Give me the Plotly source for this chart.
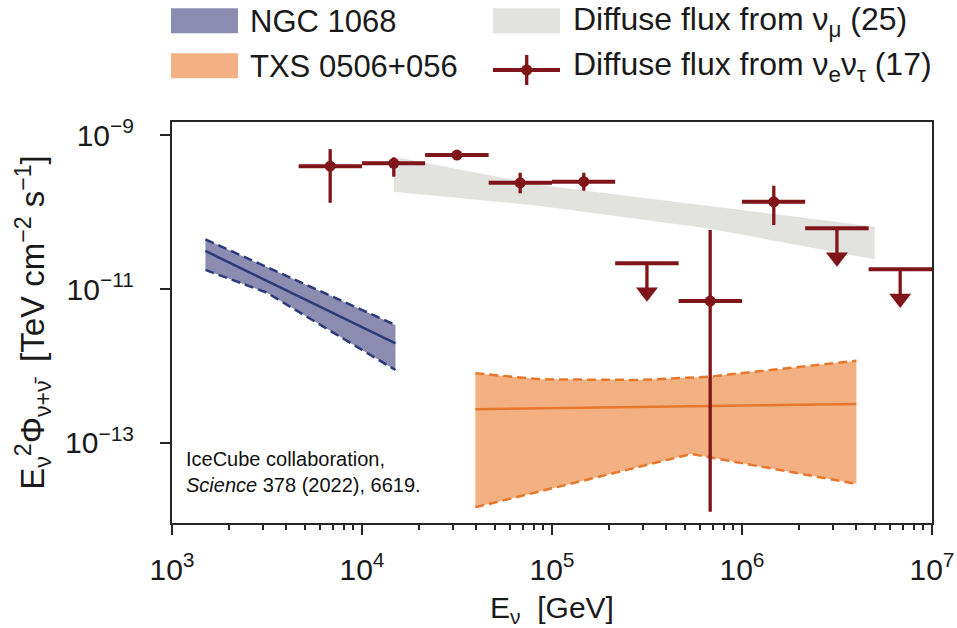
import plotly.graph_objects as go

# ---------------- data ----------------
# NGC 1068 (butterfly band)
ngc_E = [1.5e3, 3.16e3, 1.5e4]
ngc_best = [3.12e-11, 1.27e-11, 1.97e-12]
ngc_upper = [4.42e-11, 1.92e-11, 3.40e-12]
ngc_lower = [1.77e-11, 8.95e-12, 8.87e-13]

# TXS 0506+056 (butterfly band)
txs_E = [3.95e4, 4.0e6]
txs_best = [2.74e-13, 3.21e-13]
txs_up_E = [3.95e4, 8.67e4, 2.91e5, 6.8e5, 9.8e5, 4.0e6]
txs_upper = [8.04e-13, 6.71e-13, 6.58e-13, 7.26e-13, 8.04e-13, 1.17e-12]
txs_lo_E = [3.95e4, 5.4e5, 4.0e6]
txs_lower = [1.46e-14, 7.19e-14, 2.94e-14]

# Diffuse flux from nu_mu (band)
mu_E = [1.47e4, 8.67e4, 6.55e5, 5.0e6]
mu_upper = [5.22e-10, 2.24e-10, 1.21e-10, 6.44e-11]
mu_lower = [1.84e-10, 1.20e-10, 6.14e-11, 2.43e-11]

# Diffuse flux from nu_e nu_tau (measurements)
nuet_E = [6.8e3, 1.47e4, 3.16e4, 6.8e4, 1.47e5, 6.8e5, 1.47e6]
nuet_E_lo = [4.64e3, 1.0e4, 2.15e4, 4.64e4, 1.0e5, 4.64e5, 1.0e6]
nuet_E_hi = [1.0e4, 2.15e4, 4.64e4, 1.0e5, 2.15e5, 1.0e6, 2.15e6]
nuet_flux = [3.95e-10, 4.29e-10, 5.5e-10, 2.40e-10, 2.48e-10, 6.98e-12, 1.36e-10]
nuet_up = [6.58e-10, 5.13e-10, 5.8e-10, 3.24e-10, 3.24e-10, 5.83e-11, 2.20e-10]
nuet_dn = [1.32e-10, 2.88e-10, 5.2e-10, 1.75e-10, 1.89e-10, 1.28e-14, 6.78e-11]

# Diffuse flux from nu_e nu_tau (upper limits)
lim_E = [3.16e5, 3.16e6, 6.8e6]
lim_E_lo = [2.15e5, 2.15e6, 4.64e6]
lim_E_hi = [4.64e5, 4.64e6, 1.0e7]
lim_flux = [2.16e-11, 6.14e-11, 1.80e-11]

x_tickvals = [1e3, 1e4, 1e5, 1e6, 1e7]
x_ticktext = ["10<sup>3</sup>", "10<sup>4</sup>", "10<sup>5</sup>", "10<sup>6</sup>", "10<sup>7</sup>"]
y_tickvals = [1e-13, 1e-11, 1e-9]
y_ticktext = ["10<sup>\u221213</sup>", "10<sup>\u221211</sup>", "10<sup>\u22129</sup>"]

legend_labels = ["NGC 1068", "TXS 0506+056",
                 "Diffuse flux from \u03bd<sub>\u03bc</sub> (25)",
                 "Diffuse flux from \u03bd<sub>e</sub>\u03bd<sub>\u03c4</sub> (17)"]

# ---------------- style ----------------
FONT = "Liberation Sans, Arial, sans-serif"
RED = "#7f1519"
NGC_FILL = "#8c8cb1"
NGC_LINE = "#2c3a7c"
TXS_FILL = "#f3b183"
TXS_LINE = "#e8772e"
GREY = "#e2e2df"
AX = "#262626"
DASH = "9px,5px"

L, R, T, B = 172, 25, 122, 105
W, H = 957, 628
PW, PH = W - L - R, H - T - B


def PX(x):
    return (x - L) / PW


def PY(y):
    return (H - B - y) / PH


fig = go.Figure()

# grey diffuse band
fig.add_trace(go.Scatter(x=mu_E + mu_E[::-1], y=mu_upper + mu_lower[::-1],
                         fill="toself", fillcolor=GREY, mode="lines",
                         line=dict(width=0), showlegend=False, hoverinfo="skip"))

# NGC 1068
fig.add_trace(go.Scatter(x=ngc_E + ngc_E[::-1], y=ngc_upper + ngc_lower[::-1],
                         fill="toself", fillcolor=NGC_FILL, mode="lines",
                         line=dict(width=0), showlegend=False, hoverinfo="skip"))
for yy, dash in [(ngc_upper, DASH), (ngc_lower, DASH), (ngc_best, "solid")]:
    fig.add_trace(go.Scatter(x=ngc_E, y=yy, mode="lines",
                             line=dict(color=NGC_LINE, width=2.5, dash=dash),
                             showlegend=False))

# TXS 0506+056
fig.add_trace(go.Scatter(x=txs_up_E + txs_lo_E[::-1], y=txs_upper + txs_lower[::-1],
                         fill="toself", fillcolor=TXS_FILL, mode="lines",
                         line=dict(width=0), showlegend=False, hoverinfo="skip"))
fig.add_trace(go.Scatter(x=txs_up_E, y=txs_upper, mode="lines",
                         line=dict(color=TXS_LINE, width=2.5, dash=DASH), showlegend=False))
fig.add_trace(go.Scatter(x=txs_lo_E, y=txs_lower, mode="lines",
                         line=dict(color=TXS_LINE, width=2.5, dash=DASH), showlegend=False))
fig.add_trace(go.Scatter(x=txs_E, y=txs_best, mode="lines",
                         line=dict(color=TXS_LINE, width=2.5), showlegend=False))

# nu_e nu_tau measurements
fig.add_trace(go.Scatter(
    x=nuet_E, y=nuet_flux, mode="markers",
    marker=dict(size=11, color=RED),
    error_x=dict(type="data", symmetric=False,
                 array=[h - x for h, x in zip(nuet_E_hi, nuet_E)],
                 arrayminus=[x - l for l, x in zip(nuet_E_lo, nuet_E)],
                 thickness=4, width=0, color=RED),
    error_y=dict(type="data", symmetric=False,
                 array=[u - y for u, y in zip(nuet_up, nuet_flux)],
                 arrayminus=[y - d for d, y in zip(nuet_dn, nuet_flux)],
                 thickness=3.3, width=0, color=RED),
    showlegend=False))

# upper limits
fig.add_trace(go.Scatter(
    x=lim_E, y=lim_flux, mode="markers",
    marker=dict(size=1, color=RED),
    error_x=dict(type="data", symmetric=False,
                 array=[h - x for h, x in zip(lim_E_hi, lim_E)],
                 arrayminus=[x - l for l, x in zip(lim_E_lo, lim_E)],
                 thickness=4, width=0, color=RED),
    error_y=dict(type="data", symmetric=False,
                 array=[0 for _ in lim_flux],
                 arrayminus=[f * (1 - 10 ** -0.33) for f in lim_flux],
                 thickness=3.3, width=0, color=RED),
    showlegend=False))
fig.add_trace(go.Scatter(
    x=lim_E, y=[f * 10 ** -0.377 for f in lim_flux], mode="markers",
    marker=dict(symbol="triangle-down", size=19, color=RED, line=dict(width=0)),
    showlegend=False))

# ---------------- manual legend ----------------
shapes = [
    dict(type="rect", xref="paper", yref="paper", x0=PX(171), x1=PX(238),
         y0=PY(33.3), y1=PY(8.3), fillcolor=NGC_FILL, line=dict(width=0), layer="above"),
    dict(type="rect", xref="paper", yref="paper", x0=PX(171), x1=PX(238),
         y0=PY(78.3), y1=PY(53.3), fillcolor=TXS_FILL, line=dict(width=0), layer="above"),
    dict(type="rect", xref="paper", yref="paper", x0=PX(493), x1=PX(560),
         y0=PY(33.3), y1=PY(8.3), fillcolor=GREY, line=dict(width=0), layer="above"),
    dict(type="line", xref="paper", yref="paper", x0=PX(493), x1=PX(560),
         y0=PY(70), y1=PY(70), line=dict(color=RED, width=4), layer="above"),
    dict(type="line", xref="paper", yref="paper", x0=PX(526.7), x1=PX(526.7),
         y0=PY(85), y1=PY(55), line=dict(color=RED, width=3.3), layer="above"),
    dict(type="circle", xref="paper", yref="paper", x0=PX(521.2), x1=PX(532.2),
         y0=PY(75.5), y1=PY(64.5), fillcolor=RED, line=dict(width=0), layer="above"),
]

ann = []
for label, (xp, yp), fs in zip(legend_labels, [(248, 21), (248, 66), (571, 21), (571, 66)],
                               [31, 31, 32, 32]):
    ann.append(dict(text=label, xref="paper", yref="paper", x=PX(xp), y=PY(yp),
                    xanchor="left", yanchor="middle", showarrow=False,
                    font=dict(family=FONT, size=fs, color="#1a1a1a")))

ann.append(dict(text="IceCube collaboration,<br><i>Science</i> 378 (2022), 6619.",
                xref="paper", yref="paper", x=PX(184), y=PY(472),
                xanchor="left", yanchor="middle", align="left", showarrow=False,
                font=dict(family=FONT, size=20, color="#111111")))

fig.update_layout(
    width=W, height=H,
    margin=dict(l=L, r=R, t=T, b=B, pad=0, autoexpand=False),
    paper_bgcolor="white", plot_bgcolor="white",
    font=dict(family=FONT, color="#1a1a1a"),
    showlegend=False,
    shapes=shapes,
    annotations=ann,
)

fig.update_xaxes(
    type="log", range=[3, 7], automargin=False,
    tickmode="array", tickvals=x_tickvals, ticktext=x_ticktext,
    ticks="outside", ticklen=10, tickwidth=2, tickcolor=AX,
    minor=dict(tickvals=[m * 10 ** k for k in range(3, 7) for m in range(2, 10)],
               ticks="outside", ticklen=5, tickwidth=1.5, tickcolor=AX),
    showline=True, linewidth=2, linecolor=AX, mirror=True,
    showgrid=False, zeroline=False,
    tickfont=dict(size=30, family=FONT, color="#1a1a1a"),
    ticklabelstandoff=9,
    title=dict(text="E<sub>\u03bd</sub>  [GeV]", font=dict(size=30, family=FONT, color="#1a1a1a"),
               standoff=14),
)
fig.update_yaxes(
    type="log", range=[-14.04, -8.83], automargin=False,
    tickmode="array", tickvals=y_tickvals, ticktext=y_ticktext,
    ticks="outside", ticklen=10, tickwidth=2, tickcolor=AX,
    showline=True, linewidth=2, linecolor=AX, mirror=True,
    showgrid=False, zeroline=False,
    tickfont=dict(size=30, family=FONT, color="#1a1a1a"),
    ticklabelstandoff=20,
    title=dict(text="E<sub>\u03bd</sub><sup>2</sup>\u03a6<sub>\u03bd+\u03bd\u0304</sub>  [TeV cm<sup>\u22122</sup> s<sup>\u22121</sup>]",
               font=dict(size=33, family=FONT, color="#1a1a1a"), standoff=10),
)

fig.write_html("out.html")
